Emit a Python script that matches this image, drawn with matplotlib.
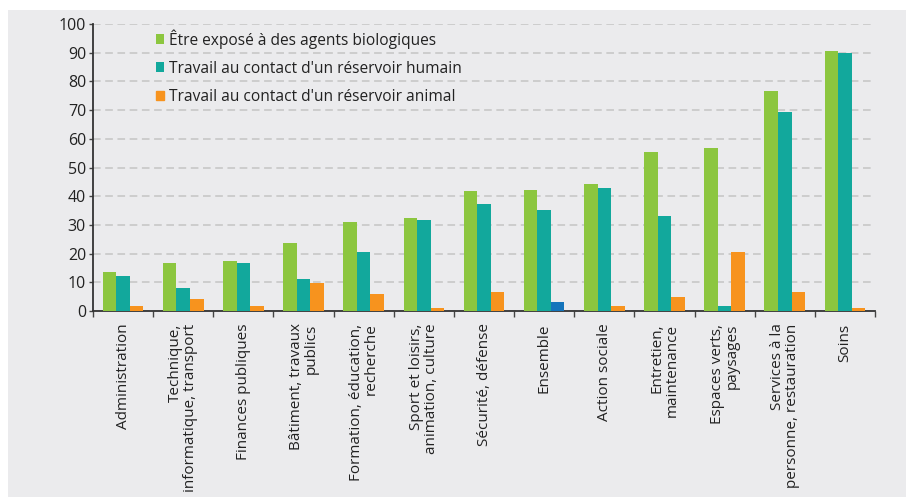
import matplotlib.pyplot as plt
import numpy as np
from matplotlib.patches import Rectangle

plt.rcParams["font.family"] = ["Open Sans", "DejaVu Sans"]

categories = [
    "Administration",
    "Technique,\ninformatique, transport",
    "Finances publiques",
    "Bâtiment, travaux\npublics",
    "Formation, éducation,\nrecherche",
    "Sport et loisirs,\nanimation, culture",
    "Sécurité, défense",
    "Ensemble",
    "Action sociale",
    "Entretien,\nmaintenance",
    "Espaces verts,\npaysages",
    "Services à la\npersonne, restauration",
    "Soins",
]
biologiques = [13.6, 16.7, 17.5, 23.8, 31.0, 32.4, 41.9, 42.2, 44.3, 55.3, 56.8, 76.7, 90.7]
humain = [12.2, 8.0, 16.7, 11.1, 20.7, 31.7, 37.3, 35.2, 42.7, 33.2, 1.7, 69.3, 89.9]
animal = [1.7, 4.2, 1.7, 9.8, 5.8, 1.0, 6.6, 3.1, 1.7, 4.9, 20.7, 6.6, 1.0]
series_labels = [
    "Être exposé à des agents biologiques",
    "Travail au contact d'un réservoir humain",
    "Travail au contact d'un réservoir animal",
]

GREEN = "#8cc63f"
TEAL = "#12a89c"
ORANGE = "#f7931e"
BLUE = "#1474bb"
PANEL = "#ebebed"

fig = plt.figure(figsize=(9.11, 4.97), dpi=100, facecolor="white")
fig.patches.append(Rectangle((8 / 911, 0), 898 / 911, 487 / 497,
                             transform=fig.transFigure, facecolor=PANEL,
                             edgecolor="none", zorder=-10))
ax = fig.add_axes([93 / 911, 186 / 497, 782 / 911, 287 / 497])
ax.set_facecolor(PANEL)

x = np.arange(len(categories))
w = 0.225
# the "Ensemble" bar for the animal series is highlighted in blue
animal_colors = [BLUE if c == "Ensemble" else ORANGE for c in categories]
ax.bar(x - w, biologiques, w, color=GREEN, label=series_labels[0], zorder=3)
ax.bar(x, humain, w, color=TEAL, label=series_labels[1], zorder=3)
ax.bar(x + w, animal, w, color=animal_colors, label=series_labels[2], zorder=3)

ax.set_ylim(0, 100)
ax.set_xlim(-0.5, len(categories) - 0.5)
ax.set_yticks(np.arange(0, 101, 10))
ax.yaxis.grid(True, color="#c4c4c4", linestyle=(0, (5, 3)), linewidth=1.1, zorder=0)

# boundaries get the tick marks, category centres get the labels
ax.set_xticks(np.arange(-0.5, len(categories)), labels=[])
ax.set_xticks(x, labels=categories, minor=True)
ax.tick_params(axis="x", which="major", length=4, width=1, color="#444444", direction="out")
ax.tick_params(axis="x", which="minor", length=0, pad=9, labelsize=11, labelcolor="#222222")
ax.tick_params(axis="y", length=3, width=1, color="#444444", labelsize=11.5, labelcolor="#222222", pad=2)
for lbl in ax.get_xticklabels(minor=True):
    lbl.set_rotation(90)
    lbl.set_multialignment("right")
    lbl.set_va("top")
    lbl.set_ha("center")
    lbl.set_linespacing(1.0)

for side in ["top", "right"]:
    ax.spines[side].set_visible(False)
for side in ["left", "bottom"]:
    ax.spines[side].set_color("#333333")
    ax.spines[side].set_linewidth(1.3)

leg = ax.legend(loc="upper left", bbox_to_anchor=(0.068, 1.015), frameon=False,
                fontsize=11.2, handlelength=0.55, handleheight=0.55,
                handletextpad=0.3, labelspacing=0.78, borderaxespad=0.2)
for t in leg.get_texts():
    t.set_color("#222222")
leg.legend_handles[2].set_color(ORANGE)

fig.savefig("out.png", dpi=100, facecolor="white")
